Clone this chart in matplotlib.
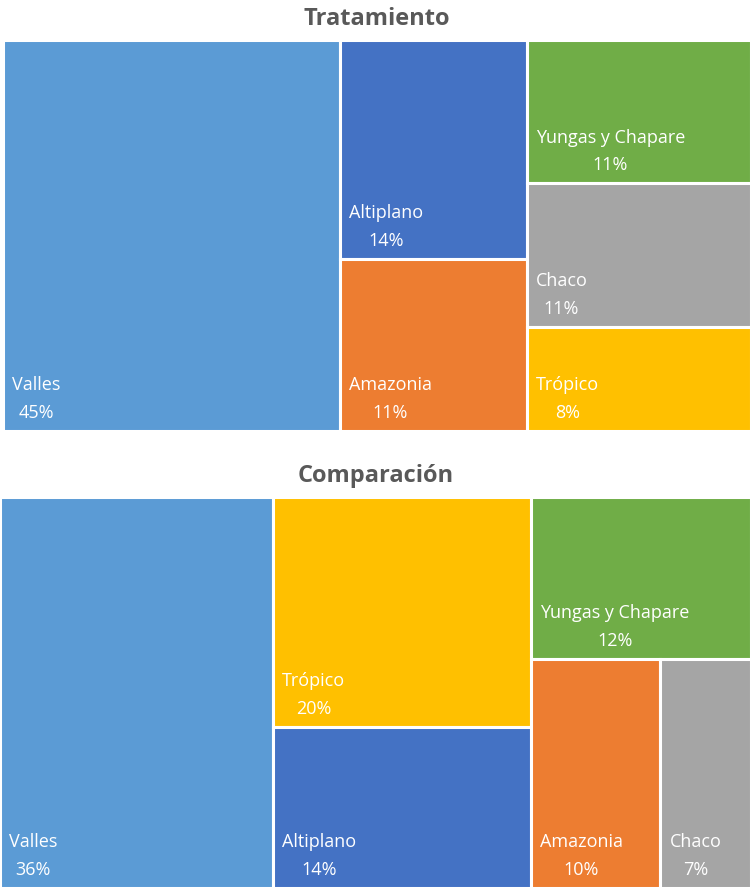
import matplotlib.pyplot as plt
from matplotlib.patches import Rectangle

# Tratamiento
treat_regions = ["Valles", "Altiplano", "Amazonia", "Yungas y Chapare", "Chaco", "Trópico"]
treat_values = [45, 14, 11, 11, 11, 8]

# Comparación
comp_regions = ["Valles", "Trópico", "Altiplano", "Yungas y Chapare", "Amazonia", "Chaco"]
comp_values = [36, 20, 14, 12, 10, 7]

colors = {
    "Valles": "#5B9BD5",
    "Altiplano": "#4472C4",
    "Amazonia": "#ED7D31",
    "Yungas y Chapare": "#70AD47",
    "Chaco": "#A5A5A5",
    "Trópico": "#FFC000",
}

FONT = "Open Sans"
W, H = 751, 888


def worst(row, side):
    #worst aspect ratio of a strip of areas laid along side
    thick = sum(row) / side
    return max(max(thick * thick / a, a / (thick * thick)) for a in row)


def squarify(values, x, y, w, h, bias=0.94):
    ''' squarified treemap, returns list of (x, y, w, h) in same order as values '''
    total = float(sum(values))
    areas = [v * w * h / total for v in values]
    rects = []
    i = 0
    while i < len(areas):
        column = w >= bias * h
        side = h if column else w
        row = [areas[i]]
        j = i + 1
        while j < len(areas) and worst(row + [areas[j]], side) <= worst(row, side):
            row.append(areas[j])
            j += 1
        thick = sum(row) / side
        pos = 0
        for a in row:
            length = a / thick
            if column:
                rects.append((x, y + pos, thick, length))
            else:
                rects.append((x + pos, y, length, thick))
            pos += length
        if column:
            x += thick
            w -= thick
        else:
            y += thick
            h -= thick
        i = j
    return rects


def draw_treemap(ax, regions, values, title):
    bw, bh = ax.bbox.width, ax.bbox.height
    ax.set_xlim(0, bw)
    ax.set_ylim(bh, 0)
    ax.axis("off")
    total = sum(values)
    for name, v, (x, y, w, h) in zip(regions, values, squarify(values, 0, 0, bw, bh)):
        ax.add_patch(Rectangle((x, y), w, h, facecolor=colors[name],
                               edgecolor="white", linewidth=2.2))
        ax.text(x + 9, y + h - 9, "%s\n%d%%" % (name, round(100 * v / total)),
                color="white", fontsize=13, family=FONT, ha="left", va="bottom",
                multialignment="center", linespacing=1.7)
    ax.set_title(title, fontsize=17, fontweight="bold", color="#595959",
                 family=FONT, pad=11)


fig = plt.figure(figsize=(W / 100, H / 100), dpi=100)
ax1 = fig.add_axes([3 / W, (H - 431) / H, 748 / W, 391 / H])
ax2 = fig.add_axes([0, 0, 1, 391 / H])
draw_treemap(ax1, treat_regions, treat_values, "Tratamiento")
draw_treemap(ax2, comp_regions, comp_values, "Comparación")

fig.savefig("out.png", dpi=100)
